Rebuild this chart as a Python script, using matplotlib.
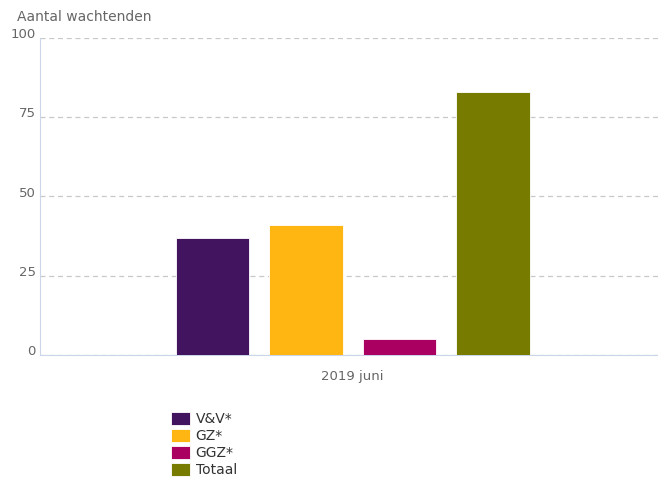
import numpy as np
import matplotlib
matplotlib.use("Agg")
import matplotlib.pyplot as plt
from matplotlib.transforms import offset_copy

category = "2019 juni"
series = ["V&V*", "GZ*", "GGZ*", "Totaal"]
values = [37, 41, 5, 83]
colors = ["#42145f", "#ffb612", "#a90061", "#777c00"]
yticks = [0, 25, 50, 75, 100]

fig = plt.figure(figsize=(6.58, 4.79), dpi=100)
ax = fig.add_axes([40 / 658, 1 - 355 / 479, 618 / 658, 317 / 479])

offsets = np.arange(len(series)) - (len(series) - 1) / 2
for off, val, col, name in zip(offsets, values, colors, series):
    ax.bar(off, val, width=0.79, color=col, edgecolor="white", linewidth=0.6, label=name, zorder=3)

ax.set_xlim(-3.345, 3.265)
ax.set_ylim(0, 100)
ax.set_xticks([0])
ax.set_xticklabels([category])
ax.set_yticks(yticks)
ax.set_yticklabels([])
ax.tick_params(axis="both", length=0, colors="#666666", labelsize=9.5)
ax.tick_params(axis="x", pad=11)

# y labels sit a little above their gridlines
lab_tr = offset_copy(ax.get_yaxis_transform(), fig=fig, x=-3, y=2.5, units="points")
for t in yticks:
    ax.text(0, t, str(t), transform=lab_tr, ha="right", va="center", fontsize=9.5, color="#666666")

ax.yaxis.grid(True, linestyle=(0, (4, 3)), color="#c8c8c8", linewidth=0.9, zorder=0)
for s in ["top", "right"]:
    ax.spines[s].set_visible(False)
ax.spines["left"].set_color("#ccd6eb")
ax.spines["bottom"].set_color("#ccd6eb")
ax.spines["left"].set_zorder(4)

fig.text(17 / 658, 1 - 17 / 479, "Aantal wachtenden", fontsize=10, color="#666666", va="center", ha="left")

fig.legend(loc="upper left", bbox_to_anchor=(165 / 658, 1 - 406 / 479), frameon=False,
           fontsize=10, handlelength=1.4, handleheight=1.1, handletextpad=0.4,
           labelspacing=0.2, borderaxespad=0, labelcolor="#333333")

fig.savefig("out.png", dpi=100)
